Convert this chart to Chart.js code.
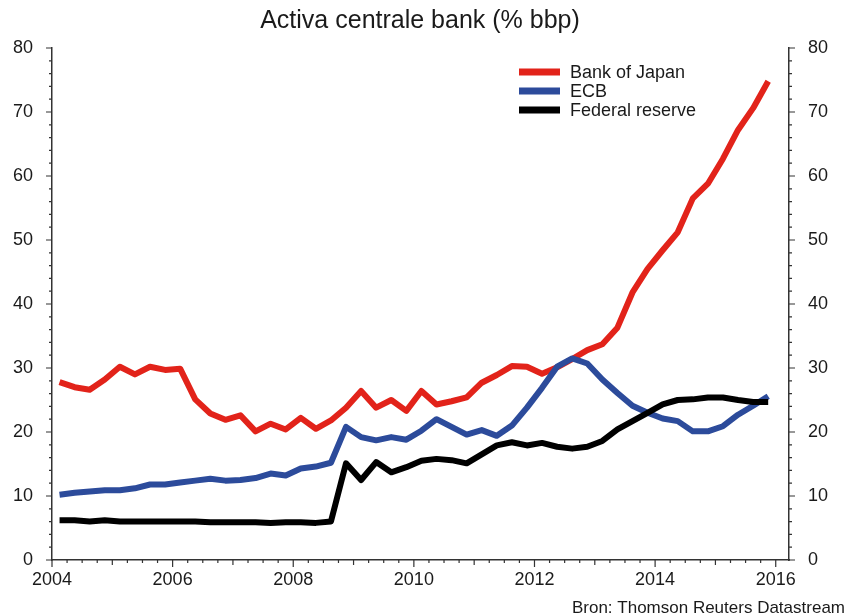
<!DOCTYPE html>
<html>
<head>
<meta charset="utf-8">
<script src="https://cdn.jsdelivr.net/npm/chart.js@4.4.0/dist/chart.umd.min.js"></script>
<style>
  html, body { margin: 0; padding: 0; background: #fff; }
</style>
</head>
<body>
<canvas id="myChart" width="856" height="616"></canvas>
<script>
// quarterly observations, first one in early 2004
const startYear = 2004.125;
const stepYears = 0.25;

const bankOfJapan = [
  27.8, 27.0, 26.6, 28.2, 30.2, 29.0, 30.2, 29.7, 29.9, 25.1, 22.9, 21.9,
  22.6, 20.1, 21.3, 20.4, 22.2, 20.5, 21.8, 23.8, 26.4, 23.8, 25.0, 23.3,
  26.4, 24.3, 24.8, 25.4, 27.7, 28.9, 30.3, 30.2, 29.1, 30.1, 31.4, 32.8,
  33.7, 36.3, 41.8, 45.5, 48.4, 51.2, 56.5, 58.8, 62.7, 67.2, 70.6, 74.8
];
const ecb = [
  10.2, 10.5, 10.7, 10.9, 10.9, 11.2, 11.8, 11.8, 12.1, 12.4, 12.7, 12.4,
  12.5, 12.8, 13.5, 13.2, 14.3, 14.6, 15.2, 20.8, 19.2, 18.7, 19.2, 18.8,
  20.2, 22.0, 20.8, 19.6, 20.3, 19.4, 21.0, 23.8, 26.9, 30.2, 31.5, 30.7,
  28.2, 26.1, 24.1, 23.0, 22.1, 21.7, 20.1, 20.1, 20.9, 22.7, 24.1, 25.6
];
const federalReserve = [
  6.2, 6.2, 6.0, 6.2, 6.0, 6.0, 6.0, 6.0, 6.0, 6.0, 5.9, 5.9,
  5.9, 5.9, 5.8, 5.9, 5.9, 5.8, 6.0, 15.1, 12.5, 15.3, 13.7, 14.5,
  15.5, 15.8, 15.6, 15.1, 16.5, 17.9, 18.4, 17.9, 18.3, 17.7, 17.4, 17.7,
  18.6, 20.4, 21.7, 23.0, 24.3, 25.0, 25.1, 25.4, 25.4, 25.0, 24.7, 24.7
];

const xTicks = [2004, 2006, 2008, 2010, 2012, 2014, 2016];
const yTicks = [0, 10, 20, 30, 40, 50, 60, 70, 80];

const toPoints = arr => arr.map((v, i) => ({ x: startYear + i * stepYears, y: v }));

const axisColor = '#333';
const textColor = '#1a1a1a';
const fontFamily = '"Liberation Sans", Arial, sans-serif';

// tick marks (major + minor), title, legend and source line
const decorPlugin = {
  id: 'decor',
  afterDraw(chart) {
    const ctx = chart.ctx;
    const { x, y, y2 } = chart.scales;
    const area = chart.chartArea;
    ctx.save();
    ctx.strokeStyle = axisColor;
    ctx.lineWidth = 1.2;
    ctx.beginPath();
    for (let v = 0; v <= 80; v += 2) {
      const py = y.getPixelForValue(v);
      const len = v % 10 === 0 ? 6 : 3;
      ctx.moveTo(area.left - len, py);
      ctx.lineTo(area.left, py);
      ctx.moveTo(area.right, py);
      ctx.lineTo(area.right + len, py);
    }
    for (let v = 2004; v <= x.max; v += 0.25) {
      const px = x.getPixelForValue(v);
      const len = v % 2 === 0 ? 7 : (v % 1 === 0 ? 5 : 3);
      ctx.moveTo(px, area.bottom);
      ctx.lineTo(px, area.bottom + len);
    }
    ctx.stroke();

    // title
    ctx.fillStyle = textColor;
    ctx.font = '25px ' + fontFamily;
    ctx.textAlign = 'center';
    ctx.textBaseline = 'alphabetic';
    ctx.fillText('Activa centrale bank (% bbp)', 420, 28);

    // source
    ctx.font = '17px ' + fontFamily;
    ctx.textAlign = 'right';
    ctx.fillText('Bron: Thomson Reuters Datastream', 845, 613);

    // legend
    ctx.font = '18px ' + fontFamily;
    ctx.textAlign = 'left';
    ctx.textBaseline = 'middle';
    chart.data.datasets.forEach((ds, i) => {
      const ly = 72 + i * 19;
      ctx.strokeStyle = ds.borderColor;
      ctx.lineWidth = 7;
      ctx.beginPath();
      ctx.moveTo(519, ly);
      ctx.lineTo(560, ly);
      ctx.stroke();
      ctx.fillStyle = textColor;
      ctx.fillText(ds.label, 570, ly + 1);
    });
    ctx.restore();
  }
};

const yAxis = (position, width) => ({
  type: 'linear',
  position: position,
  min: 0,
  max: 80,
  afterBuildTicks: scale => { scale.ticks = yTicks.map(v => ({ value: v })); },
  afterFit: scale => { scale.width = width; },
  grid: { display: false, drawTicks: false },
  border: { display: true, color: axisColor, width: 1.5 },
  ticks: { padding: 19, color: textColor, font: { size: 18, family: fontFamily } }
});

const ctx = document.getElementById('myChart').getContext('2d');
const myChart = new Chart(ctx, {
  type: 'line',
  data: {
    datasets: [
      { label: 'Bank of Japan', data: toPoints(bankOfJapan), borderColor: '#e2231a', order: 3 },
      { label: 'ECB', data: toPoints(ecb), borderColor: '#2c4b9b', order: 2 },
      { label: 'Federal reserve', data: toPoints(federalReserve), borderColor: '#000000', order: 1 }
    ]
  },
  options: {
    responsive: false,
    animation: false,
    devicePixelRatio: 1,
    layout: { padding: { top: 48, left: 0, right: 0, bottom: 0 } },
    elements: {
      line: { borderWidth: 6, tension: 0, borderJoinStyle: 'round', fill: false },
      point: { radius: 0 }
    },
    plugins: {
      legend: { display: false },
      title: { display: false },
      tooltip: { enabled: false }
    },
    scales: {
      x: {
        type: 'linear',
        min: 2004,
        max: 2016.22,
        afterBuildTicks: scale => { scale.ticks = xTicks.map(v => ({ value: v })); },
        afterFit: scale => { scale.height = 56; },
        grid: { display: false, drawTicks: false },
        border: { display: true, color: axisColor, width: 1.5 },
        ticks: {
          padding: 9,
          maxRotation: 0,
          autoSkip: false,
          color: textColor,
          font: { size: 18, family: fontFamily },
          callback: v => String(v)
        }
      },
      y: yAxis('left', 52),
      y2: yAxis('right', 67)
    }
  },
  plugins: [decorPlugin]
});
</script>
</body>
</html>
